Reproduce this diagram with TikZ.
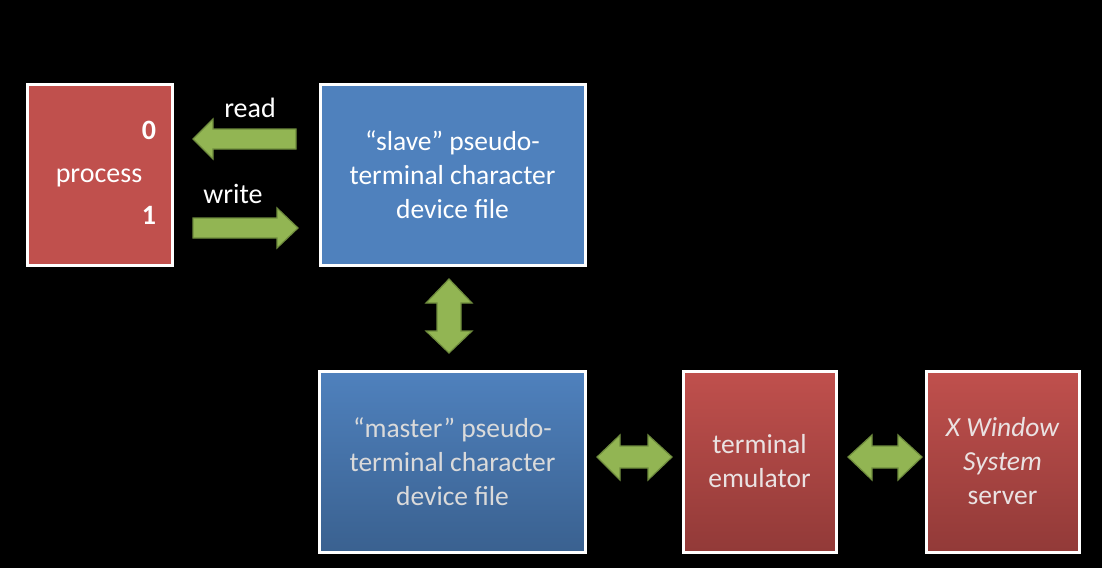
\documentclass[tikz,border=0pt]{standalone}
\usepackage{fontspec}
\setmainfont{Carlito}
\definecolor{boxred}{HTML}{C0504D}
\definecolor{boxreddark}{HTML}{923A38}
\definecolor{boxblue}{HTML}{4F81BD}
\definecolor{boxbluedark}{HTML}{3A6190}
\definecolor{arrowgreen}{HTML}{92B553}
\definecolor{arrowedge}{HTML}{6E8B3D}
\definecolor{softtext}{HTML}{DADADA}
\definecolor{redtext}{HTML}{EAE2E2}
\tikzset{
  box/.style={draw=white, line width=3pt, minimum height=181pt, align=center,
    inner sep=0pt, font=\fontsize{27.5}{34}\selectfont},
  solidred/.style={box, fill=boxred, text=white},
  solidblue/.style={box, fill=boxblue, text=white},
  gradblue/.style={box, top color=boxblue, bottom color=boxbluedark, text=softtext},
  gradred/.style={box, top color=boxred, bottom color=boxreddark, text=redtext},
  lbl/.style={text=white, font=\fontsize{28}{34}\selectfont, inner sep=0pt},
  num/.style={text=white, font=\fontsize{28}{34}\selectfont\bfseries, inner sep=0pt},
  blockarrow/.style={fill=arrowgreen, draw=arrowedge, line width=1.2pt, line join=miter}
}
\begin{document}
\begin{tikzpicture}[x=1pt, y=-1pt]
\fill[black] (0,0) rectangle (1102,568);
\useasboundingbox (0,0) rectangle (1102,568);

\node[solidred, minimum width=145pt] (proc) at (99.5,174.5) {};
\node[lbl] (proclbl) at (99,178) {process};
\node[num] (zero) at (149,130) {0};
\node[num] (one) at (149,215) {1};

\node[solidblue, minimum width=265pt] (slave) at (452.5,174.5)
  {“slave” pseudo-\\terminal character\\device file};
\node[gradblue, minimum width=266pt] (master) at (452.5,461.5)
  {“master” pseudo-\\terminal character\\device file};
\node[gradred, minimum width=153pt] (term) at (759.5,461.5)
  {terminal\\emulator};
\node[gradred, minimum width=153pt] (xwin) at (1002.5,461.5)
  {\itshape X Window\\\itshape System\\server};

\node[lbl] (readlbl) at (250,108) {read};
\node[lbl] (writelbl) at (233,194) {write};

% read arrow (slave -> process)
\draw[blockarrow] (296,129) -- (213,129) -- (213,119) -- (193,139) -- (213,159)
  -- (213,149) -- (296,149) -- cycle;
% write arrow (process -> slave)
\draw[blockarrow] (193,218) -- (277,218) -- (277,208) -- (298,228) -- (277,248)
  -- (277,238) -- (193,238) -- cycle;
% slave <-> master
\draw[blockarrow] (449,279) -- (472,303) -- (461,303) -- (461,331) -- (472,331)
  -- (449,353) -- (426,331) -- (437,331) -- (437,303) -- (426,303) -- cycle;
% master <-> terminal
\draw[blockarrow] (597,457) -- (620,435) -- (620,446) -- (648,446) -- (648,435)
  -- (672,457) -- (648,480) -- (648,468) -- (620,468) -- (620,480) -- cycle;
% terminal <-> X
\draw[blockarrow] (848,457) -- (872,435) -- (872,446) -- (898,446) -- (898,435)
  -- (922,457) -- (898,480) -- (898,468) -- (872,468) -- (872,480) -- cycle;
\end{tikzpicture}
\end{document}
